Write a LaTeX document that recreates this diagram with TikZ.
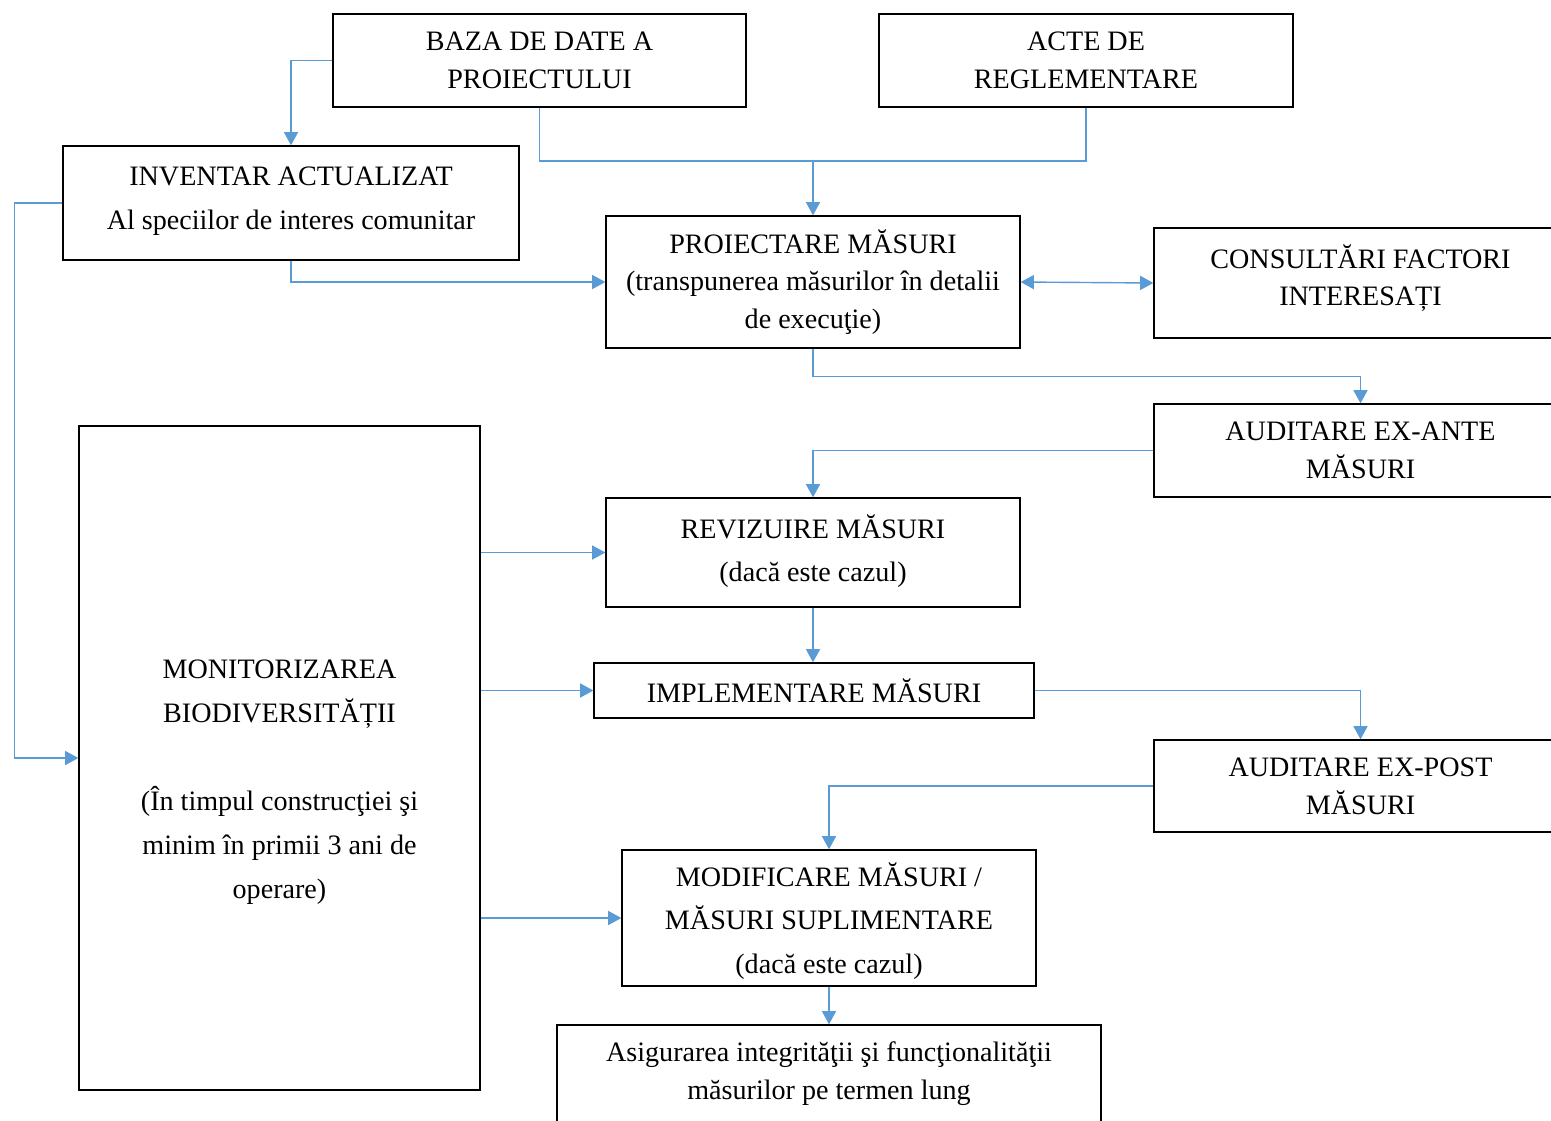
\documentclass[tikz,border=0pt]{standalone}
\usepackage{fontspec}
\setmainfont{Liberation Serif}
\definecolor{linkblue}{RGB}{91,155,213}
\usetikzlibrary{arrows.meta}

\begin{document}
\begin{tikzpicture}[
  x=0.02cm, y=-0.02cm,
  box/.style={draw, line width=0.8pt, inner sep=0pt, align=center,
    font=\fontsize{16}{21.5}\selectfont},
  wide/.style={font=\fontsize{16}{25}\selectfont},
  line/.style={draw=linkblue, line width=0.8pt},
  link/.style={line, -{Triangle[length=7.5pt,width=8pt]}},
]
  \useasboundingbox (0,0) rectangle (1551,1120);
  \node[box, minimum width=8.26cm, minimum height=1.86cm] (baza) at (539.5,60.5) {BAZA DE DATE A\\PROIECTULUI};
  \node[box, minimum width=8.28cm, minimum height=1.86cm] (acte) at (1086,60.5) {ACTE DE\\REGLEMENTARE};
  \node[box, wide, minimum width=9.12cm, minimum height=2.28cm] (inventar) at (291,203) {INVENTAR ACTUALIZAT\\Al speciilor de interes comunitar\\[-20pt]};
  \node[box, minimum width=8.28cm, minimum height=2.64cm] (proiectare) at (813,282) {PROIECTARE MĂSURI\\(transpunerea măsurilor în detalii\\de execuţie)};
  \node[box, minimum width=8.26cm, minimum height=2.2cm] (consultari) at (1360.5,283) {CONSULTĂRI FACTORI\\INTERESAȚI\\[-12.5pt]};
  \node[box, minimum width=8.26cm, minimum height=1.86cm] (exante) at (1360.5,450.5) {AUDITARE EX-ANTE\\MĂSURI};
  \node[box, wide, minimum width=8.28cm, minimum height=2.18cm] (revizuire) at (813,552.5) {REVIZUIRE MĂSURI\\(dacă este cazul)\\[-20pt]};
  \node[box, minimum width=8.8cm, minimum height=1.1cm] (implementare) at (814,690.5) {IMPLEMENTARE MĂSURI};
  \node[box, minimum width=8.26cm, minimum height=1.84cm] (expost) at (1360.5,786) {AUDITARE EX-POST\\MĂSURI};
  \node[box, wide, minimum width=8.02cm, minimum height=13.28cm] (monitor) at (279.5,758) {\mbox{}\\[13pt]MONITORIZAREA\\BIODIVERSITĂȚII\\\mbox{}\\(În timpul construcţiei şi\\minim în primii 3 ani de\\operare)};
  \node[box, wide, minimum width=8.28cm, minimum height=2.72cm] (modificare) at (829,918) {\mbox{}\\[-8pt]MODIFICARE MĂSURI /\\MĂSURI SUPLIMENTARE\\(dacă este cazul)};
  \node[box, minimum width=10.88cm, minimum height=1.96cm] (asigurarea) at (829,1074) {Asigurarea integrităţii şi funcţionalităţii\\măsurilor pe termen lung};

  \coordinate (join) at (813,161);
  \draw[line] (baza.south) |- (join) -| (acte.south);
  \draw[link] (join) -- (proiectare.north);
  \draw[link] (baza.west) -| (inventar.north);
  \draw[link] (inventar.west) -- ++(-48,0) |- (monitor.west);
  \draw[link] (inventar.south) |- (proiectare.west);
  \draw[line, {Triangle[length=7.5pt,width=8pt]}-{Triangle[length=7.5pt,width=8pt]}] (proiectare.east) -- (consultari.west);
  \draw[link] (proiectare.south) -- ++(0,28) -| (exante.north);
  \draw[link] (exante.west) -| (revizuire.north);
  \draw[link] (monitor.east |- revizuire.west) -- (revizuire.west);
  \draw[link] (revizuire.south) -- (revizuire.south |- implementare.north);
  \draw[link] (monitor.east |- implementare.west) -- (implementare.west);
  \draw[link] (implementare.east) -| (expost.north);
  \draw[link] (expost.west) -| (modificare.north);
  \draw[link] (monitor.east |- modificare.west) -- (modificare.west);
  \draw[link] (modificare.south) -- (asigurarea.north);
\end{tikzpicture}
\end{document}
